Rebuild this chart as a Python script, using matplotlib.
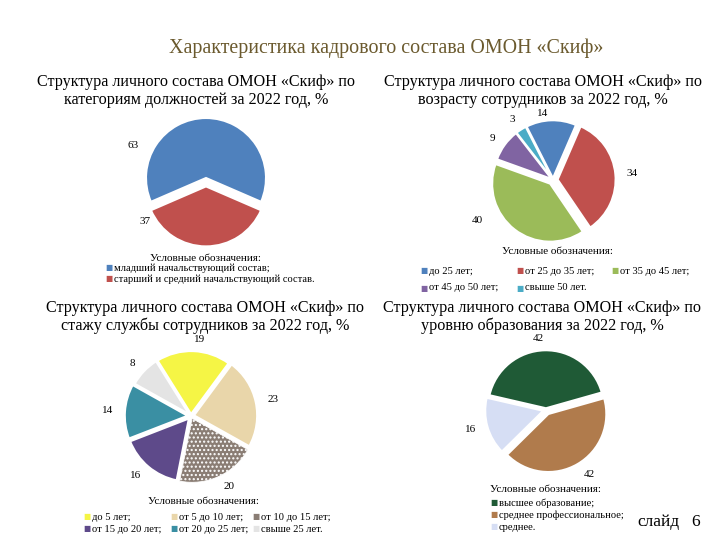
import numpy as np
import matplotlib
matplotlib.use("Agg")
import matplotlib.pyplot as plt

plt.rcParams['font.family'] = ['Liberation Serif', 'DejaVu Serif']

# --- data ---
title = "Характеристика кадрового состава ОМОН «Скиф»"

t1 = "Структура личного состава ОМОН «Скиф» по\nкатегориям должностей за 2022 год, %"
cat1 = ["младший начальствующий состав;", "старший и средний начальствующий состав."]
val1 = [63, 37]
col1 = ["#4F81BD", "#C0504D"]

t2 = "Структура личного состава ОМОН «Скиф» по\nвозрасту сотрудников за 2022 год, %"
cat2 = ["до 25 лет;", "от 25 до 35 лет;", "от 35 до 45 лет;", "от 45 до 50 лет;", "свыше 50 лет."]
val2 = [14, 34, 40, 9, 3]
col2 = ["#4F81BD", "#C0504D", "#9BBB59", "#8064A2", "#4BACC6"]

t3 = "Структура личного состава ОМОН «Скиф» по\nстажу службы сотрудников за 2022 год, %"
cat3 = ["до 5 лет;", "от 5 до 10 лет;", "от 10 до 15 лет;", "от 15 до 20 лет;", "от 20 до 25 лет;", "свыше 25 лет."]
val3 = [19, 23, 20, 16, 14, 8]
col3 = ["#F5F545", "#E9D6AA", "#8A7D74", "#5E4A8A", "#3A8FA3", "#E4E4E4"]

t4 = "Структура личного состава ОМОН «Скиф» по\nуровню образования за 2022 год, %"
cat4 = ["высшее образование;", "среднее профессиональное;", "среднее."]
val4 = [42, 42, 16]
col4 = ["#1F5A36", "#B07B4C", "#D6DEF4"]

W, H = 720, 540
fig = plt.figure(figsize=(7.2, 5.4), dpi=100)
fig.patch.set_facecolor("white")


def fx(x):
    return x / W


def fy(y):
    return 1 - y / H


def pie_axes(cx, cy, r):
    s = 1.5 * r
    ax = fig.add_axes([(cx - s) / W, 1 - (cy + s) / H, 2 * s / W, 2 * s / H])
    return ax


def finish(ax):
    ax.set_xlim(-1.5, 1.5)
    ax.set_ylim(-1.5, 1.5)
    ax.set_aspect('equal')
    ax.axis('off')


def legend_item(x, y, text, color, size=7.6):
    fig.text(fx(x), fy(y), "■", color=color, fontsize=5.5, family=['DejaVu Sans'],
             ha='left', va='center')
    fig.text(fx(x + 9), fy(y), text, fontsize=size, ha='left', va='center')


tcol = "#6B5A2E"
fig.text(fx(386), fy(48), title, color=tcol, fontsize=14.4, ha='center', va='center')

# panel titles
for (x, y, t) in [(196, 91, t1), (543, 91, t2), (205, 317, t3), (542, 317, t4)]:
    fig.text(fx(x), fy(y), t, fontsize=11.6, ha='center', va='center', linespacing=1.1)

wp = dict(edgecolor='white', linewidth=1.5)
tp = dict(fontsize=8)

# chart 1
ax = pie_axes(206, 181, 60)
w, tx = ax.pie(val1, colors=col1, startangle=-23.4, explode=[0.05, 0.09],
               labels=[str(v) for v in val1], labeldistance=1.2,
               wedgeprops=wp, textprops=tp)
tx[0].set_position((-1.13, 0.6))
tx[1].set_position((-1.1, -0.68))
finish(ax)
fig.text(fx(205), fy(258), "Условные обозначения:", fontsize=8, ha='center', va='center')
for i, (c, k) in enumerate(zip(cat1, col1)):
    legend_item(105, 268 + 11 * i, c, k)

# chart 2
ax = pie_axes(553, 180, 58)
w, tx = ax.pie(val2, colors=col2, startangle=117, counterclock=False,
               explode=[0.03, 0.08, 0.08, 0.03, 0.03],
               labels=[str(v) for v in val2], labeldistance=1.2,
               wedgeprops=wp, textprops=tp)
tx[0].set_position((-0.09, 1.15))
tx[2].set_position((-1.21, -0.69))
finish(ax)
fig.text(fx(557), fy(251), "Условные обозначения:", fontsize=8, ha='center', va='center')
pos2 = [(420, 271), (516, 271), (611, 271), (420, 288), (516, 288)]
for (x, y), c, k in zip(pos2, cat2, col2):
    legend_item(x, y, c, k)

# chart 3
ax = pie_axes(191, 416, 64)
w, tx = ax.pie(val3, colors=col3, startangle=122, counterclock=False,
               explode=[0.02, 0.04, 0.04, 0.04, 0.04, 0.02],
               labels=[str(v) for v in val3], labeldistance=1.18,
               wedgeprops=dict(edgecolor='white', linewidth=2), textprops=tp)
w[2].set_hatch('....')
w[2].set_linewidth(0.6)
finish(ax)
fig.text(fx(204), fy(502), "Условные обозначения:", fontsize=8, ha='center', va='center')
pos3 = [(83, 517), (170, 517), (252, 517), (83, 529), (170, 529), (252, 529)]
for (x, y), c, k in zip(pos3, cat3, col3):
    legend_item(x, y, c, k)

# chart 4
ax = pie_axes(546, 410, 58)
w, tx = ax.pie(val4, colors=col4, startangle=167, counterclock=False,
               explode=[0.03, 0.08, 0.05],
               labels=[str(v) for v in val4], labeldistance=1.2,
               wedgeprops=wp, textprops=tp)
finish(ax)
fig.text(fx(490), fy(489), "Условные обозначения:", fontsize=8, ha='left', va='center')
for i, (c, k) in enumerate(zip(cat4, col4)):
    legend_item(490, 503 + 12 * i, c, k)

fig.text(fx(637), fy(522), "слайд", fontsize=12.5, ha='left', va='center')
fig.text(fx(700), fy(522), "6", fontsize=12.5, ha='right', va='center')

fig.savefig("out.png", dpi=100)
